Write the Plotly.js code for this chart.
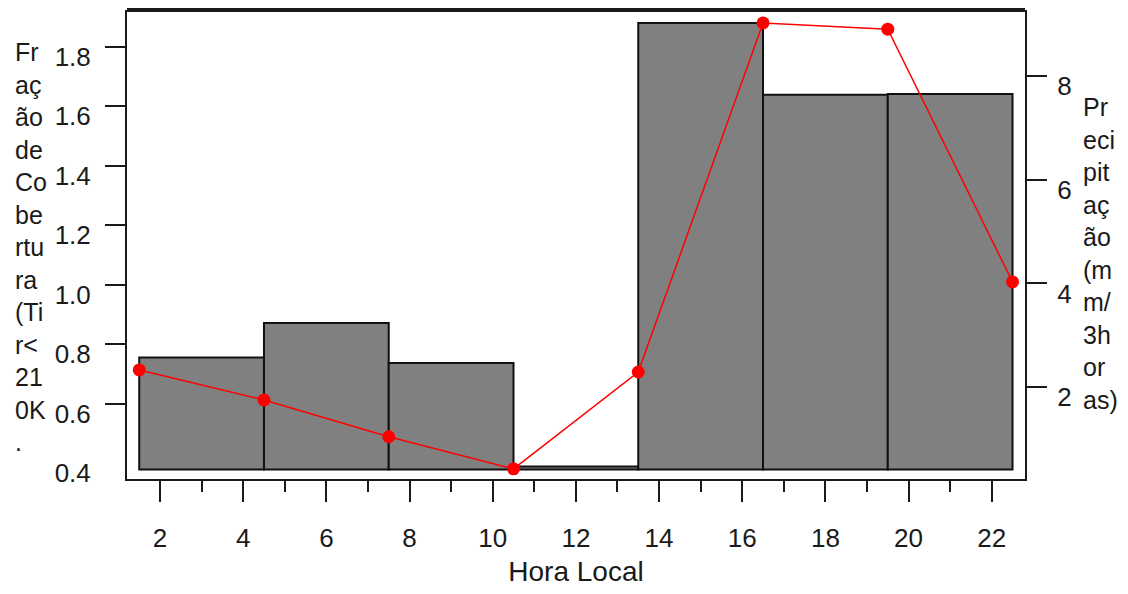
<!DOCTYPE html>
<html>
<head>
<meta charset="utf-8">
<script src="https://cdn.plot.ly/plotly-3.0.1.min.js"></script>
<style>html,body{margin:0;padding:0;background:#fff;}#chart{width:1128px;height:594px;}</style>
</head>
<body>
<div id="chart"></div>
<script>
// ---- data ----
const barHours = [3, 6, 9, 12, 15, 18, 21];              // centre of each 3-hour block
const coverFraction = [0.756, 0.872, 0.738, 0.39, 1.88, 1.639, 1.642];
const precipHours = [1.5, 4.5, 7.5, 10.5, 13.5, 16.5, 19.5, 22.5];
const precipitation = [2.33, 1.75, 1.04, 0.42, 2.29, 9.03, 8.91, 4.03];
const xTicks = [2, 4, 6, 8, 10, 12, 14, 16, 18, 20, 22];
const leftTicks = [0.6, 0.8, 1.0, 1.2, 1.4, 1.6, 1.8];
const leftTickLabels = [0.4, 0.6, 0.8, 1.0, 1.2, 1.4, 1.6, 1.8];
const rightTicks = [2, 4, 6, 8];
const leftTitle = "Fr<br>aç<br>ão<br>de<br>Co<br>be<br>rtu<br>ra<br>(Ti<br>r<<br>21<br>0K<br>.";
const rightTitle = "Pr<br>eci<br>pit<br>aç<br>ão<br>(m<br>m/<br>3h<br>or<br>as)";
const xTitle = "Hora Local";

// ---- styling ----
const BAR_BASE = 0.38;
const INK = '#1a1a1a';
const FONT = 'Liberation Sans, Arial, sans-serif';
const Y1 = [0.348, 1.924];
const Y2 = [0.224, 9.28];
const LABEL_SHIFT1 = 0.032;
const LABEL_SHIFT2 = 0.193;

const bars = {
  type: 'bar',
  x: barHours,
  y: coverFraction.map(v => v - BAR_BASE),
  base: BAR_BASE,
  width: 3,
  marker: {color: '#808080', line: {color: '#111', width: 2}},
  yaxis: 'y',
  hoverinfo: 'skip'
};
const line = {
  type: 'scatter',
  mode: 'lines+markers',
  x: precipHours,
  y: precipitation,
  yaxis: 'y2',
  line: {color: '#ff0000', width: 1.5},
  marker: {color: '#ff0000', size: 13},
  hoverinfo: 'skip'
};
// empty carriers so the label-only axes are drawn
const leftLabelCarrier = {type: 'scatter', mode: 'markers', x: [], y: [], yaxis: 'y3', hoverinfo: 'skip'};
const rightLabelCarrier = {type: 'scatter', mode: 'markers', x: [], y: [], yaxis: 'y4', hoverinfo: 'skip'};

const layout = {
  width: 1128, height: 594,
  margin: {l: 127, r: 103, t: 10, b: 115},
  paper_bgcolor: '#fff', plot_bgcolor: '#fff',
  showlegend: false,
  font: {family: FONT, color: INK, size: 26},
  xaxis: {
    range: [1.206, 22.80],
    tickmode: 'array', tickvals: xTicks, ticktext: xTicks.map(String),
    ticks: 'outside', ticklen: 21, tickwidth: 2, tickcolor: INK,
    minor: {tickmode: 'linear', tick0: 1, dtick: 1, ticks: 'outside', ticklen: 11, tickwidth: 2, tickcolor: INK, showgrid: false},
    showline: true, linewidth: 2, linecolor: INK,
    showgrid: false, zeroline: false,
    tickfont: {size: 26, family: FONT, color: INK},
    ticklabelstandoff: 14,
    title: {text: xTitle, font: {size: 28, family: FONT, color: INK}, standoff: 9}
  },
  yaxis: {
    range: Y1,
    tickmode: 'array', tickvals: leftTicks,
    showticklabels: false,
    ticks: 'outside', ticklen: 20, tickwidth: 2, tickcolor: INK,
    showline: true, linewidth: 2, linecolor: INK,
    showgrid: false, zeroline: false
  },
  yaxis3: {
    overlaying: 'y', side: 'left',
    range: [Y1[0] + LABEL_SHIFT1, Y1[1] + LABEL_SHIFT1],
    tickmode: 'array', tickvals: leftTickLabels, ticktext: leftTickLabels.map(v => v.toFixed(1)),
    ticks: 'outside', ticklen: 20, tickcolor: 'rgba(0,0,0,0)',
    ticklabelstandoff: 10,
    tickfont: {size: 26, family: FONT, color: INK},
    showline: false, showgrid: false, zeroline: false
  },
  yaxis2: {
    overlaying: 'y', side: 'right',
    range: Y2,
    tickmode: 'array', tickvals: rightTicks,
    showticklabels: false,
    ticks: 'outside', ticklen: 20, tickwidth: 2, tickcolor: INK,
    showline: true, linewidth: 2, linecolor: INK,
    showgrid: false, zeroline: false
  },
  yaxis4: {
    overlaying: 'y', side: 'right',
    range: [Y2[0] + LABEL_SHIFT2, Y2[1] + LABEL_SHIFT2],
    tickmode: 'array', tickvals: rightTicks, ticktext: rightTicks.map(String),
    ticks: 'outside', ticklen: 20, tickcolor: 'rgba(0,0,0,0)',
    ticklabelstandoff: 6,
    tickfont: {size: 26, family: FONT, color: INK},
    showline: false, showgrid: false, zeroline: false
  },
  shapes: [
    {type: 'line', xref: 'paper', yref: 'paper', x0: 0, x1: 1, y0: 1, y1: 1, line: {color: INK, width: 4}}
  ],
  annotations: [
    {text: leftTitle, xref: 'paper', yref: 'paper', x: -0.127, y: 0.4947, xanchor: 'left', yanchor: 'middle',
     align: 'left', showarrow: false, font: {size: 25, family: FONT, color: INK}},
    {text: rightTitle, xref: 'paper', yref: 'paper', x: 1.0625, y: 0.481, xanchor: 'left', yanchor: 'middle',
     align: 'left', showarrow: false, font: {size: 25, family: FONT, color: INK}}
  ]
};

Plotly.newPlot('chart', [bars, leftLabelCarrier, rightLabelCarrier, line], layout, {staticPlot: true, displayModeBar: false});
</script>
</body>
</html>
